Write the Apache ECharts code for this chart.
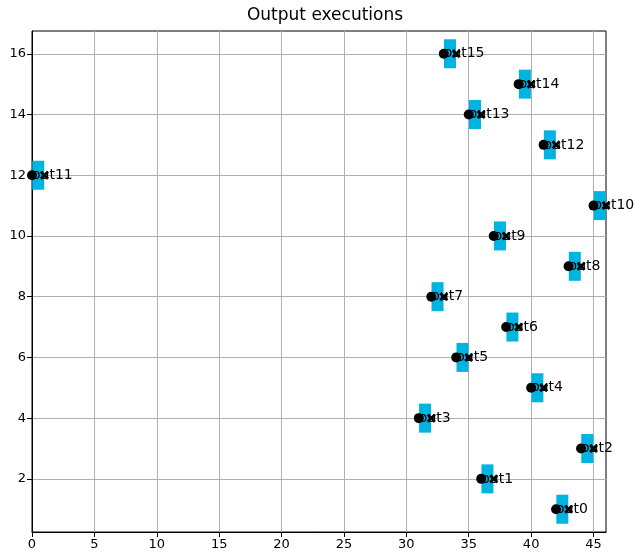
<!DOCTYPE html>
<html>
<head>
<meta charset="utf-8">
<script src="https://cdn.jsdelivr.net/npm/echarts@6/dist/echarts.min.js"></script>
<style>
  html, body { margin: 0; padding: 0; background: #fff; }
  #chart { width: 640px; height: 560px; }
</style>
</head>
<body>
<div id="chart"></div>
<script>
// one row per output
const outputNames = ["out0", "out1", "out2", "out3", "out4", "out5", "out6", "out7",
  "out8", "out9", "out10", "out11", "out12", "out13", "out14", "out15"];
const rowY = [1, 2, 3, 4, 5, 6, 7, 8, 9, 10, 11, 12, 13, 14, 15, 16];
const startX = [42, 36, 44, 31, 40, 34, 38, 32, 43, 37, 45, 0, 41, 35, 39, 33];
const endX = [43, 37, 45, 32, 41, 35, 39, 33, 44, 38, 46, 1, 42, 36, 40, 34];
const midX = [42.5, 36.5, 44.5, 31.5, 40.5, 34.5, 38.5, 32.5, 43.5, 37.5, 45.5, 0.5, 41.5, 35.5, 39.5, 33.5];
const xTicks = [0, 5, 10, 15, 20, 25, 30, 35, 40, 45];
const yTicks = [2, 4, 6, 8, 10, 12, 14, 16];

const font = "DejaVu Sans";
const xMarker = "path://M0,2.2 L2.2,0 L5,2.8 L7.8,0 L10,2.2 L7.2,5 L10,7.8 L7.8,10 L5,7.2 L2.2,10 L0,7.8 L2.8,5 Z";

let myChart = echarts.init(document.getElementById("chart"));
let option = {
  animation: false,
  title: {
    text: "Output executions",
    left: 320,
    top: 2,
    textAlign: "center",
    textStyle: { fontFamily: font, fontSize: 17, fontWeight: "normal", color: "#000" },
  },
  grid: {
    left: 32,
    right: 34,
    top: 31,
    bottom: 28,
    show: true,
    borderColor: "#000",
    borderWidth: 1,
  },
  xAxis: {
    type: "value",
    min: 0,
    max: 46,
    axisLine: { show: true, lineStyle: { color: "#000" } },
    axisTick: { show: true, length: 5, customValues: xTicks, lineStyle: { color: "#000" } },
    axisLabel: { customValues: xTicks, color: "#000", fontFamily: font, fontSize: 13, margin: 6 },
    splitLine: { show: true, lineStyle: { color: "#b0b0b0", width: 1 } },
  },
  yAxis: {
    type: "value",
    min: 0.25,
    max: 16.75,
    axisLine: { show: true, lineStyle: { color: "#000" } },
    axisTick: { show: true, length: 5, customValues: yTicks, lineStyle: { color: "#000" } },
    axisLabel: { customValues: yTicks, color: "#000", fontFamily: font, fontSize: 13, margin: 6 },
    splitLine: { show: true, lineStyle: { color: "#b0b0b0", width: 1 } },
  },
  series: [
    {
      // cyan bars at the middle of each run
      type: "scatter",
      symbol: "rect",
      symbolSize: [12, 29],
      itemStyle: { color: "#00b4e2", opacity: 1 },
      data: midX.map((x, i) => [x, rowY[i]]),
      z: 2,
    },
    {
      // start points, carrying the labels
      type: "scatter",
      symbol: "circle",
      symbolSize: 10,
      itemStyle: { color: "#000", opacity: 1 },
      data: startX.map((x, i) => ({ value: [x, rowY[i]], name: outputNames[i] })),
      label: {
        show: true,
        position: [5, 5],
        align: "left",
        verticalAlign: "middle",
        formatter: "{b}",
        color: "#000",
        fontFamily: font,
        fontSize: 14,
      },
      z: 3,
    },
    {
      type: "scatter",
      symbol: xMarker,
      symbolSize: 9,
      itemStyle: { color: "#000", opacity: 1 },
      data: endX.map((x, i) => [x, rowY[i]]),
      z: 4,
    },
  ],
};

myChart.setOption(option);
</script>
</body>
</html>
